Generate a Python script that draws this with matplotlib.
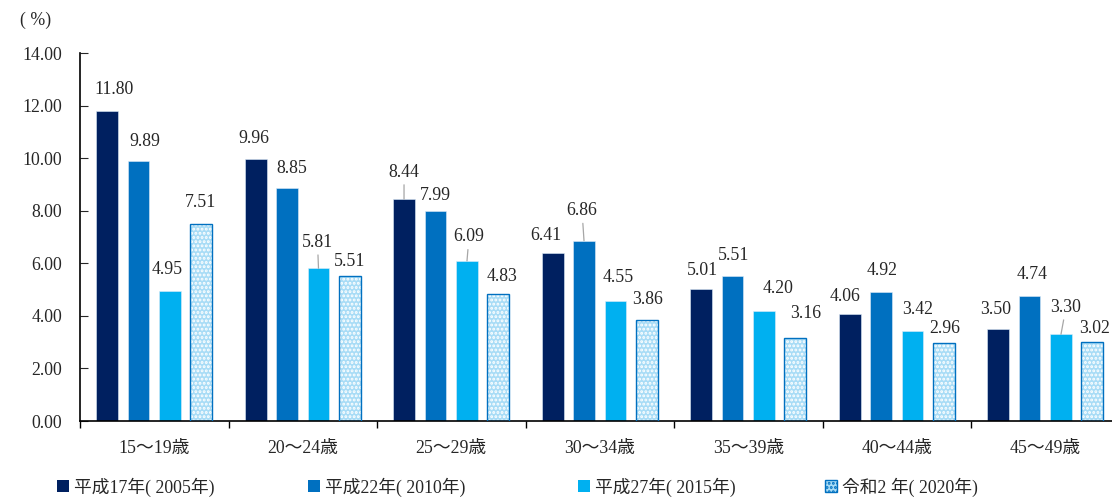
import numpy as np
import matplotlib.pyplot as plt
from matplotlib.patches import Patch

plt.rcParams['font.family'] = ['Liberation Serif', 'Noto Sans CJK JP']
plt.rcParams['hatch.linewidth'] = 1.4

# data
groups = ['15～19歳', '20～24歳', '25～29歳', '30～34歳', '35～39歳', '40～44歳', '45～49歳']
series = ['平成17年( 2005年)', '平成22年( 2010年)', '平成27年( 2015年)', '令和2 年( 2020年)']
h17 = [11.80, 9.96, 8.44, 6.41, 5.01, 4.06, 3.50]
h22 = [9.89, 8.85, 7.99, 6.86, 5.51, 4.92, 4.74]
h27 = [4.95, 5.81, 6.09, 4.55, 4.20, 3.42, 3.30]
r2 = [7.51, 5.51, 4.83, 3.86, 3.16, 2.96, 3.02]
values = [h17, h22, h27, r2]

colors = ['#002060', '#0070C0', '#00B0F0']
dot_bg = '#A8DCF6'

# label offsets in pixels (dx, dy, leader line)
offs = [
    [(7, 21, 0), (-2, 21, 0), (0, 27, 1), (-7, 17, 0), (1, 19, 0), (-4, 18, 0), (-2, 19, 0)],
    [(6, 20, 0), (5, 20, 0), (0, 15, 0), (-2, 30, 1), (1, 21, 0), (1, 21, 0), (3, 22, 0)],
    [(-3, 21, 0), (-1, 26, 1), (2, 24, 1), (3, 24, 0), (14, 22, 0), (5, 22, 0), (5, 27, 1)],
    [(-1, 21, 0), (0, 15, 0), (4, 18, 0), (1, 20, 0), (10, 24, 0), (1, 15, 0), (2, 13, 0)],
]
# left edge of each legend marker (pixels)
leg_x = [57, 308, 578, 825]

fs = 12.8
fig = plt.figure(figsize=(11.12, 4.99), dpi=100)
ax = fig.add_axes([80 / 1112, 1 - 421 / 499, 1039.5 / 1112, 368 / 499])

x = np.arange(len(groups))
w = 0.148
step = 0.212
for i, vals in enumerate(values):
    xs = x + (i - 1.5) * step
    if i < 3:
        ax.bar(xs, vals, w, color=colors[i], edgecolor='#DDEBF7', linewidth=0.4, zorder=2)
    else:
        ax.bar(xs, vals, w, color=dot_bg, edgecolor='white', hatch='....', linewidth=0, zorder=2)
        ax.bar(xs, vals, w, fill=False, edgecolor='#0070C0', linewidth=1.0, zorder=3)
    for j, v in enumerate(vals):
        dx, dy, lead = offs[i][j]
        ap = None
        if lead:
            ap = dict(arrowstyle='-', color='#A6A6A6', lw=0.9, shrinkA=1, shrinkB=0)
        ax.annotate('%.2f' % v, (xs[j], v), xytext=(dx, dy), textcoords='offset pixels',
                    ha='center', va='center', fontsize=fs, color='#262626', arrowprops=ap)

ax.set_xlim(-0.5, 6.5)
ax.set_ylim(0, 14)
ax.set_yticks(np.arange(0, 14.01, 2))
ax.set_yticklabels(['%.2f' % t for t in np.arange(0, 14.01, 2)])
ax.tick_params(axis='y', direction='in', length=6, pad=13, labelsize=fs, colors='#262626')

ax.set_xticks(np.arange(-0.5, 6.6, 1))
ax.set_xticklabels([])
ax.set_xticks(x, minor=True)
ax.set_xticklabels(groups, minor=True)
ax.tick_params(axis='x', which='major', direction='out', length=5, width=1)
ax.tick_params(axis='x', which='minor', length=0, pad=14, labelsize=fs, colors='#262626')

for s in ['top', 'right']:
    ax.spines[s].set_visible(False)
ax.spines['left'].set_linewidth(1.2)
ax.spines['bottom'].set_linewidth(1.2)

fig.text(36 / 1112, 1 - 20 / 499, '( %)', ha='center', va='center', fontsize=fs, color='#262626')

handles = [Patch(facecolor=colors[0]), Patch(facecolor=colors[1]), Patch(facecolor=colors[2]),
           Patch(facecolor=dot_bg, edgecolor='#0070C0', hatch='....')]
for h, lab, lx in zip(handles, series, leg_x):
    fig.legend([h], [lab], loc='center left', bbox_to_anchor=(lx / 1112, 1 - 487 / 499),
               frameon=False, fontsize=fs, handlelength=0.65, handleheight=0.65,
               handletextpad=0.3, borderpad=0, borderaxespad=0, labelcolor='#262626')

fig.savefig('out.png', dpi=100)
